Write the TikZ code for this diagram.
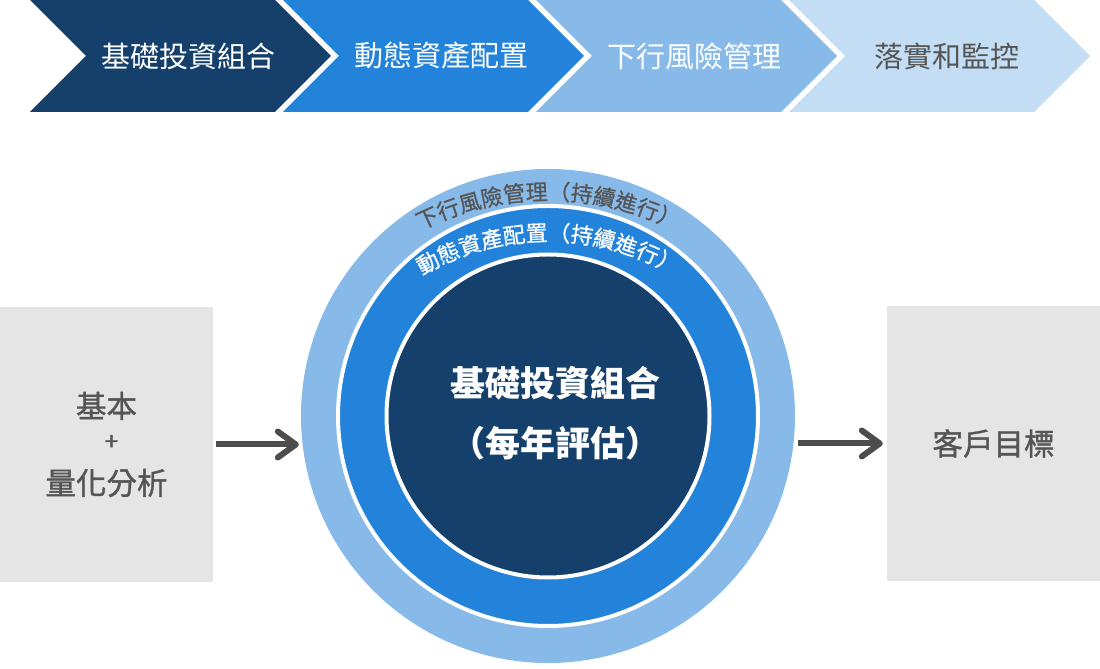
\documentclass[tikz,border=0pt]{standalone}
\usepackage{fontspec}
\setmainfont{Noto Sans CJK TC}
\newfontfamily\medfont[FakeBold=1.2]{Noto Sans CJK TC}
\newfontfamily\semifont[FakeBold=0.7]{Noto Sans CJK TC}
\usetikzlibrary{arrows.meta,decorations.text}
\definecolor{navy}{HTML}{15406C}
\definecolor{midblue}{HTML}{2382DA}
\definecolor{lightblue}{HTML}{87B9E9}
\definecolor{paleblue}{HTML}{C3DDF4}
\definecolor{boxgray}{HTML}{E5E5E5}
\definecolor{txtgray}{HTML}{555555}
\definecolor{arrgray}{HTML}{4D4D4D}
\begin{document}
\begin{tikzpicture}[x=1pt,y=1pt,
  chevtext/.style={font=\fontsize{29}{29}\selectfont, anchor=center, inner sep=0},
  sidebox/.style={fill=boxgray, minimum width=213pt, minimum height=275pt, inner sep=0,
    text=txtgray, font=\medfont\fontsize{30.5}{38.5}\selectfont, align=center},
  ring/.style={circle, inner sep=0},
  flow/.style={draw=arrgray, line width=6pt, -{Straight Barb[length=18pt, width=26pt, round]}},
  arctext/.style={decorate, decoration={text along path, text align=center, text color=#1}},
]
\useasboundingbox (0,0) rectangle (1100,669);

% top chevrons
\foreach \i/\col/\tc/\lab in {0/navy/white/基礎投資組合, 1/midblue/white/動態資產配置,
    2/lightblue/white/下行風險管理, 3/paleblue/txtgray/落實和監控} {
  \pgfmathsetmacro\xo{30+253*\i}
  \fill[\col] (\xo,669) -- ++(245,0) -- ++(56,-56) -- ++(-56,-56) -- ++(-245,0) -- ++(56,56) -- cycle;
  \node[chevtext, text=\tc] (chev\i) at (\xo+158,613) {\lab};
}

% circles
\node[ring, fill=lightblue, minimum size=494pt] (outer) at (548,253) {};
\node[ring, fill=midblue, draw=white, line width=4pt, minimum size=420pt] (middle) at (548,253) {};
\node[ring, fill=navy, draw=white, line width=4pt, minimum size=323pt] (inner) at (548,253) {};

\node[text=white, font=\bfseries\fontsize{35}{60}\selectfont, align=center] (core) at (555,256)
  {基礎投資組合\\（每年評估）};

% curved labels
\path[arctext=txtgray, decoration={text={|\semifont\fontsize{22}{22}\selectfont|下行風險管理（持續進行）}}]
  (548,186) ++(125:283) arc[start angle=125, end angle=55, radius=283];
\path[arctext=white, decoration={text={|\semifont\fontsize{22}{22}\selectfont|動態資產配置（持續進行）}}]
  (548,181) ++(125:247) arc[start angle=125, end angle=55, radius=247];

% side boxes
\node[sidebox] (leftbox) at (106.5,224.5)
  {基本\\\raisebox{6pt}{\hspace*{10pt}\fontsize{24}{24}\selectfont +}\\量化分析};
\node[sidebox] (rightbox) at (993.5,225.5) {客戶目標};

% arrows
\draw[flow, shorten <=3pt, shorten >=2pt] (leftbox.east) -- (leftbox.east -| outer.west);
\draw[flow, shorten <=3pt, shorten >=4pt] (rightbox.west -| outer.east) -- (rightbox.west);
\end{tikzpicture}
\end{document}
